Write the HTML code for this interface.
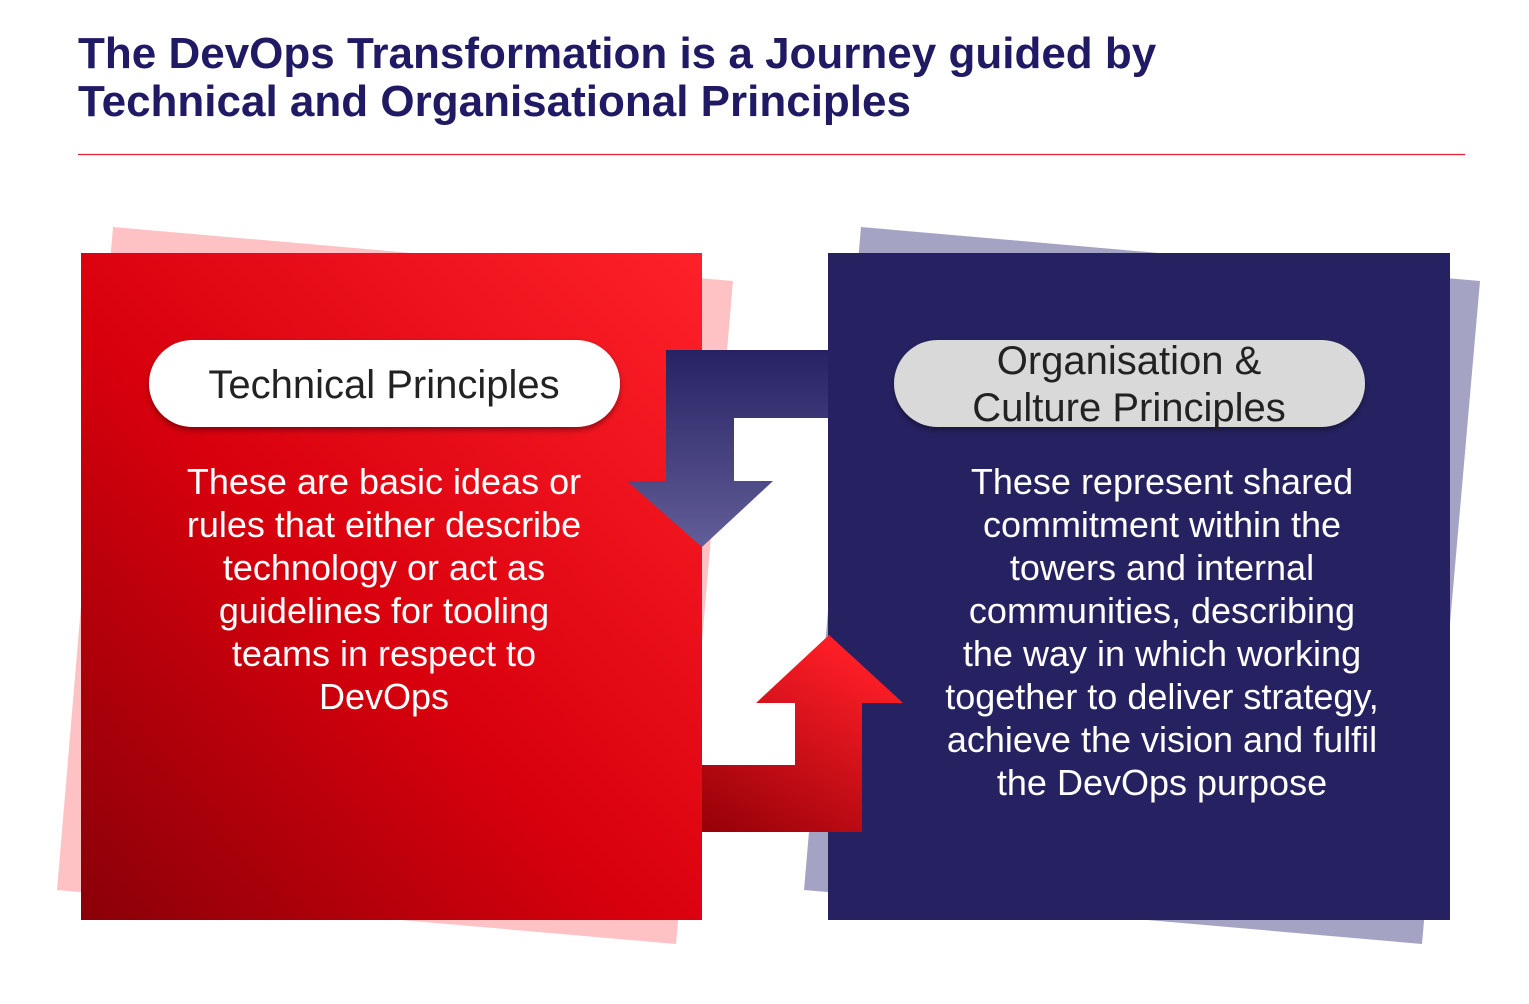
<!DOCTYPE html>
<html><head><meta charset="utf-8"><style>
body{margin:0;width:1529px;height:999px;background:#fff;overflow:hidden;font-family:"Liberation Sans",Arial,sans-serif;}
</style></head><body>
<svg width="1529" height="999" viewBox="0 0 1529 999">
<defs>
<linearGradient id="redg" x1="0" y1="1" x2="1" y2="0">
<stop offset="0" stop-color="#8a0008"/><stop offset="0.45" stop-color="#d8000d"/><stop offset="1" stop-color="#ff2129"/>
</linearGradient>
<linearGradient id="navyArrow" x1="0" y1="0" x2="0" y2="1">
<stop offset="0" stop-color="#272263"/><stop offset="1" stop-color="#625e98"/>
</linearGradient>
<linearGradient id="redArrow" x1="0" y1="1" x2="0.6" y2="0">
<stop offset="0" stop-color="#950008"/><stop offset="1" stop-color="#ff1e27"/>
</linearGradient>
<filter id="sh" x="-10%" y="-20%" width="120%" height="150%"><feDropShadow dx="0" dy="3" stdDeviation="3" flood-color="#000" flood-opacity="0.4"/></filter>
</defs>
<text x="78" y="68" font-size="44" font-weight="bold" fill="#1f1a63">The DevOps Transformation is a Journey guided by</text>
<text x="78" y="116" font-size="44" font-weight="bold" fill="#1f1a63">Technical and Organisational Principles</text>
<line x1="78" y1="154.5" x2="1465" y2="154.5" stroke="#e8202a" stroke-width="1.2"/>
<polygon points="113,227 733,281 676,944 57,890" fill="#ffc2c4"/>
<polygon points="861,227 1480,281 1422,944 804,890" fill="#a5a3c3"/>
<rect x="81" y="253" width="621" height="667" fill="url(#redg)"/>
<rect x="828" y="253" width="622" height="667" fill="#262262"/>
<polygon points="828,350 666,350 666,481 627,481 702,547 773,481 734,481 734,418 828,418" fill="url(#navyArrow)"/>
<polygon points="702,765 795,765 795,703 756,703 829,635 903,703 862,703 862,832 702,832" fill="url(#redArrow)"/>
<rect x="149" y="340" width="471" height="87" rx="43.5" fill="#fff" filter="url(#sh)"/>
<text x="384" y="398" font-size="40" text-anchor="middle" fill="#222">Technical Principles</text>
<rect x="894" y="340" width="471" height="87" rx="43.5" fill="#d9d9d9" filter="url(#sh)"/>
<text x="1129" y="374" font-size="40" text-anchor="middle" fill="#222">Organisation &amp;</text>
<text x="1129" y="421" font-size="40" text-anchor="middle" fill="#222">Culture Principles</text>
<g font-size="36" fill="#fff" text-anchor="middle">
<text x="384" y="494">These are basic ideas or</text>
<text x="384" y="537">rules that either describe</text>
<text x="384" y="580">technology or act as</text>
<text x="384" y="623">guidelines for tooling</text>
<text x="384" y="666">teams in respect to</text>
<text x="384" y="709">DevOps</text>
</g>
<g font-size="36" fill="#fff" text-anchor="middle">
<text x="1162" y="494">These represent shared</text>
<text x="1162" y="537">commitment within the</text>
<text x="1162" y="580">towers and internal</text>
<text x="1162" y="623">communities, describing</text>
<text x="1162" y="666">the way in which working</text>
<text x="1162" y="709">together to deliver strategy,</text>
<text x="1162" y="752">achieve the vision and fulfil</text>
<text x="1162" y="795">the DevOps purpose</text>
</g>
</svg>
</body></html>
